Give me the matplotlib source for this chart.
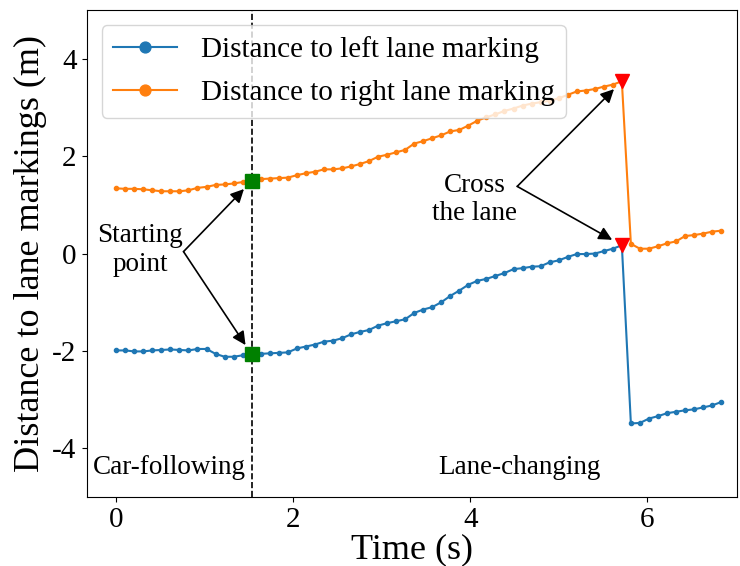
import numpy as np
import matplotlib
matplotlib.use("Agg")
import matplotlib.pyplot as plt

plt.rcParams["font.family"] = ["Liberation Serif", "DejaVu Serif"]
plt.rcParams["axes.unicode_minus"] = False

# Lateral distances (m) sampled at a constant frame interval
dt = 0.102
left_dist = [
    -1.99, -1.99, -2.01, -2.01, -1.99, -1.98, -1.97, -1.98, -1.99, -1.96,
    -1.96, -2.06, -2.12, -2.12, -2.09, -2.07, -2.06, -2.05, -2.04, -2.03,
    -1.95, -1.91, -1.87, -1.81, -1.79, -1.74, -1.66, -1.61, -1.57, -1.48,
    -1.43, -1.39, -1.35, -1.22, -1.15, -1.10, -1.00, -0.87, -0.76, -0.64,
    -0.56, -0.52, -0.46, -0.40, -0.32, -0.30, -0.27, -0.26, -0.18, -0.14,
    -0.07, -0.01, -0.01, 0.00, 0.05, 0.10, 0.17, -3.49, -3.48, -3.39,
    -3.34, -3.28, -3.25, -3.22, -3.20, -3.16, -3.12, -3.05,
]
right_dist = [
    1.34, 1.33, 1.33, 1.32, 1.30, 1.28, 1.28, 1.28, 1.30, 1.35,
    1.37, 1.41, 1.42, 1.44, 1.47, 1.49, 1.53, 1.54, 1.55, 1.56,
    1.61, 1.65, 1.68, 1.73, 1.73, 1.75, 1.79, 1.84, 1.90, 1.99,
    2.03, 2.08, 2.13, 2.26, 2.31, 2.37, 2.43, 2.51, 2.54, 2.63,
    2.73, 2.80, 2.86, 2.93, 2.98, 3.04, 3.08, 3.11, 3.14, 3.19,
    3.26, 3.33, 3.35, 3.38, 3.43, 3.47, 3.54, 0.20, 0.10, 0.10,
    0.15, 0.21, 0.25, 0.36, 0.38, 0.41, 0.45, 0.47,
]
start_idx = 15
cross_idx = 56

time = np.arange(len(left_dist)) * dt
left = np.array(left_dist)
right = np.array(right_dist)

fig = plt.figure(figsize=(7.4, 5.66), dpi=100)
ax = fig.add_axes([0.1176, 0.122, 0.878, 0.860])

ax.plot(time, left, "-o", color="#1f77b4", lw=1.5, ms=3,
        label="Distance to left lane marking")
ax.plot(time, right, "-o", color="#ff7f0e", lw=1.5, ms=3,
        label="Distance to right lane marking")

ax.axvline(time[start_idx], color="black", ls="--", lw=1.2)

ax.plot([time[start_idx]] * 2, [left[start_idx], right[start_idx]],
        "s", color="green", ms=10, ls="none")
ax.plot([time[cross_idx]] * 2, [left[cross_idx], right[cross_idx]],
        "v", color="red", ms=10, ls="none")

arrow = dict(arrowstyle="-|>", color="black", lw=1.2, mutation_scale=20,
             shrinkA=0, shrinkB=8)

# "Starting point" callout: two arrows from one tail
ax.text(0.27, 0.08, "Starting\npoint", ha="center", va="center", fontsize=19.5)
for y in (right[start_idx], left[start_idx]):
    ax.annotate("", xy=(time[start_idx], y), xytext=(0.76, 0.04),
                arrowprops=arrow)

# "Cross the lane" callout
ax.text(4.05, 1.11, "Cross\nthe lane", ha="center", va="center", fontsize=19.5)
for y in (right[cross_idx], left[cross_idx]):
    ax.annotate("", xy=(time[cross_idx], y), xytext=(4.53, 1.38),
                arrowprops=arrow)

ax.text(0.6, -4.39, "Car-following", ha="center", va="center", fontsize=19.5)
ax.text(4.56, -4.39, "Lane-changing", ha="center", va="center", fontsize=19.5)

ax.set_xlim(-0.33, 7.01)
ax.set_ylim(-5, 5)
ax.set_xticks([0, 2, 4, 6])
ax.set_yticks([-4, -2, 0, 2, 4])
ax.tick_params(labelsize=21, pad=4)
ax.set_xlabel("Time (s)", fontsize=26, labelpad=0)
ax.set_ylabel("Distance to lane markings (m)", fontsize=26, labelpad=4)

ax.legend(loc="upper left", fontsize=21, markerscale=2.6, handlelength=2.2,
          labelspacing=0.55, borderaxespad=0.5)

fig.savefig("out.png", dpi=100)
